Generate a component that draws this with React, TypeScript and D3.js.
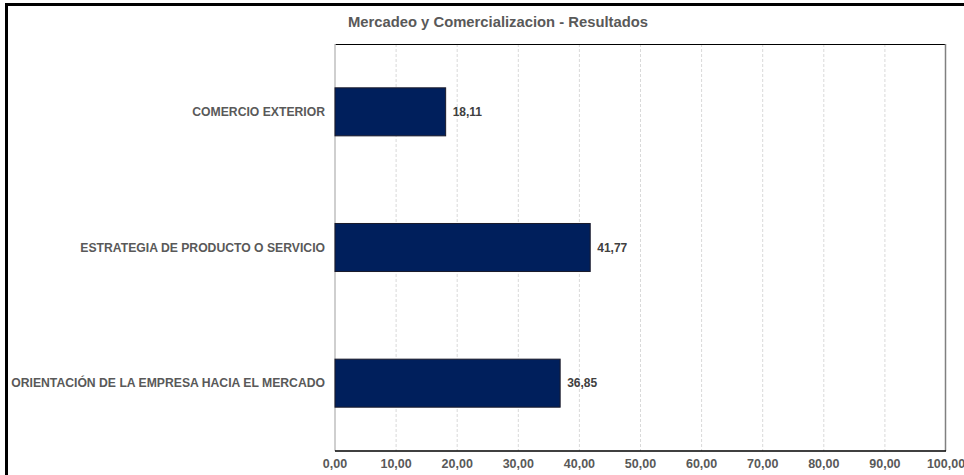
import React from "react";
import * as d3 from "d3";

const categories = [
  "COMERCIO EXTERIOR",
  "ESTRATEGIA DE PRODUCTO O SERVICIO",
  "ORIENTACIÓN DE LA EMPRESA HACIA EL MERCADO",
];
const values = [18.11, 41.77, 36.85];
const ticks = [0, 10, 20, 30, 40, 50, 60, 70, 80, 90, 100];
const title = "Mercadeo y Comercializacion - Resultados";

const W = 964;
const H = 475;
const left = 335;
const right = 946;
const top = 44;
const bottom = 451;

const fmt = (v: number) => v.toFixed(2).replace(".", ",");

export default function App() {
  const x = d3.scaleLinear().domain([0, 100]).range([left, right]);
  const y = d3
    .scaleBand<string>()
    .domain(categories)
    .range([top, bottom])
    .paddingInner(0.646)
    .paddingOuter(0.323);
  const font = "'Liberation Sans', Arial, Helvetica, sans-serif";
  return (
    <svg
      width={W}
      height={H}
      style={{ position: "absolute", left: 0, top: 0, background: "#fff" }}
      fontFamily={font}
    >
      <rect x={0} y={0} width={W} height={H} fill="#fff" />
      <rect x={6.5} y={4.5} width={W + 20} height={H + 20} fill="none" stroke="#000" strokeWidth={3} />
      <text x={498} y={27} textAnchor="middle" fontSize={14.8} fontWeight="bold" fill="#595959">
        {title}
      </text>
      {ticks.slice(1, -1).map((t) => (
        <line key={t} x1={x(t)} x2={x(t)} y1={top} y2={bottom} stroke="#d9d9d9" strokeWidth={1} strokeDasharray="3,2" />
      ))}
      <line x1={left} x2={right} y1={top + 0.5} y2={top + 0.5} stroke="#000" strokeWidth={1} />
      <line x1={right - 0.5} x2={right - 0.5} y1={top} y2={bottom} stroke="#808080" strokeWidth={1.5} />
      <line x1={left} x2={left} y1={top} y2={bottom} stroke="#bfbfbf" strokeWidth={1.5} />
      {categories.map((c, i) => (
        <g key={c}>
          <rect
            x={x(0)}
            y={y(c)!}
            width={x(values[i]) - x(0)}
            height={y.bandwidth()}
            fill="#001f5c"
            stroke="#1a1a2a"
            strokeWidth={1}
          />
          <text
            x={x(values[i]) + 7}
            y={y(c)! + y.bandwidth() / 2}
            dy="0.35em"
            fontSize={12}
            fontWeight="bold"
            fill="#404040"
          >
            {fmt(values[i])}
          </text>
          <text
            x={325}
            y={y(c)! + y.bandwidth() / 2}
            dy="0.35em"
            textAnchor="end"
            fontSize={12.2}
            fontWeight="bold"
            fill="#595959"
          >
            {c}
          </text>
        </g>
      ))}
      <line x1={left} x2={right} y1={bottom} y2={bottom} stroke="#000" strokeWidth={1.5} />
      {ticks.map((t) => (
        <text key={t} x={x(t)} y={468} textAnchor="middle" fontSize={12.5} fontWeight="bold" fill="#595959">
          {fmt(t)}
        </text>
      ))}
    </svg>
  );
}
